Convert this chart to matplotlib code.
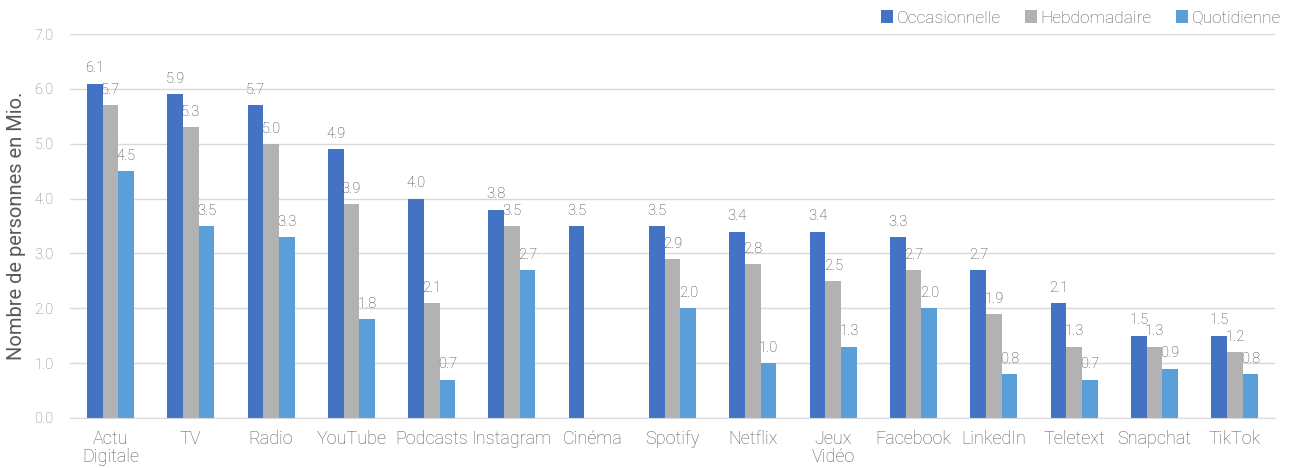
import matplotlib
matplotlib.use('Agg')
import matplotlib.pyplot as plt
import numpy as np

categories = ['Actu\nDigitale', 'TV', 'Radio', 'YouTube', 'Podcasts', 'Instagram',
              'Cinéma', 'Spotify', 'Netflix', 'Jeux\nVidéo', 'Facebook', 'LinkedIn',
              'Teletext', 'Snapchat', 'TikTok']
occasionnelle = [6.1, 5.9, 5.7, 4.9, 4.0, 3.8, 3.5, 3.5, 3.4, 3.4, 3.3, 2.7, 2.1, 1.5, 1.5]
hebdomadaire = [5.7, 5.3, 5.0, 3.9, 2.1, 3.5, np.nan, 2.9, 2.8, 2.5, 2.7, 1.9, 1.3, 1.3, 1.2]
quotidienne = [4.5, 3.5, 3.3, 1.8, 0.7, 2.7, np.nan, 2.0, 1.0, 1.3, 2.0, 0.8, 0.7, 0.9, 0.8]

series = [('Occasionnelle', occasionnelle, '#4472C4'),
          ('Hebdomadaire', hebdomadaire, '#B2B2B2'),
          ('Quotidienne', quotidienne, '#5B9FD9')]

plt.rcParams['font.family'] = ['Roboto', 'DejaVu Sans']
plt.rcParams['font.weight'] = 'light'
txt = '#595959'

fig = plt.figure(figsize=(13.01, 4.68), dpi=100)
ax = fig.add_axes([0.054, 0.107, 0.926, 0.82])

x = np.arange(len(categories))
w = 0.195
for k, (name, vals, col) in enumerate(series):
    pos = x + (k - 1) * w
    vals = np.array(vals, dtype=float)
    ax.bar(pos, vals, w, color=col, label=name, zorder=2)
    for p, v in zip(pos, vals):
        if not np.isnan(v):
            ax.text(p, v + 0.15, f'{v:.1f}', ha='center', va='bottom',
                    fontsize=10.5, color='#404040', fontweight='light')

ax.set_xlim(-0.5, len(categories) - 0.5)
ax.set_ylim(0, 7)
ax.set_yticks(np.arange(0, 7.1, 1))
ax.set_yticklabels([f'{t:.1f}' for t in np.arange(0, 7.1, 1)])
ax.yaxis.grid(True, color='#D9D9D9', linewidth=1, zorder=0)
ax.set_axisbelow(True)
ax.set_xticks(x)
ax.set_xticklabels(categories, fontsize=13, color=txt, linespacing=0.95)
ax.tick_params(axis='y', labelsize=10.5, colors='#7F7F7F', length=0, pad=12)
ax.tick_params(axis='x', length=0, pad=9)
for s in ['top', 'right', 'left']:
    ax.spines[s].set_visible(False)
ax.spines['bottom'].set_color('#D9D9D9')
ax.set_ylabel('Nombre de personnes en Mio.', fontsize=14.5, color=txt, labelpad=6)

leg = ax.legend(loc='center right', bbox_to_anchor=(1.012, 1.042), ncol=3, frameon=False,
                fontsize=12.5, handlelength=0.7, handleheight=0.7, handletextpad=0.2,
                columnspacing=1.4, borderpad=0)
for t in leg.get_texts():
    t.set_color(txt)

fig.savefig('out.png', dpi=100)
